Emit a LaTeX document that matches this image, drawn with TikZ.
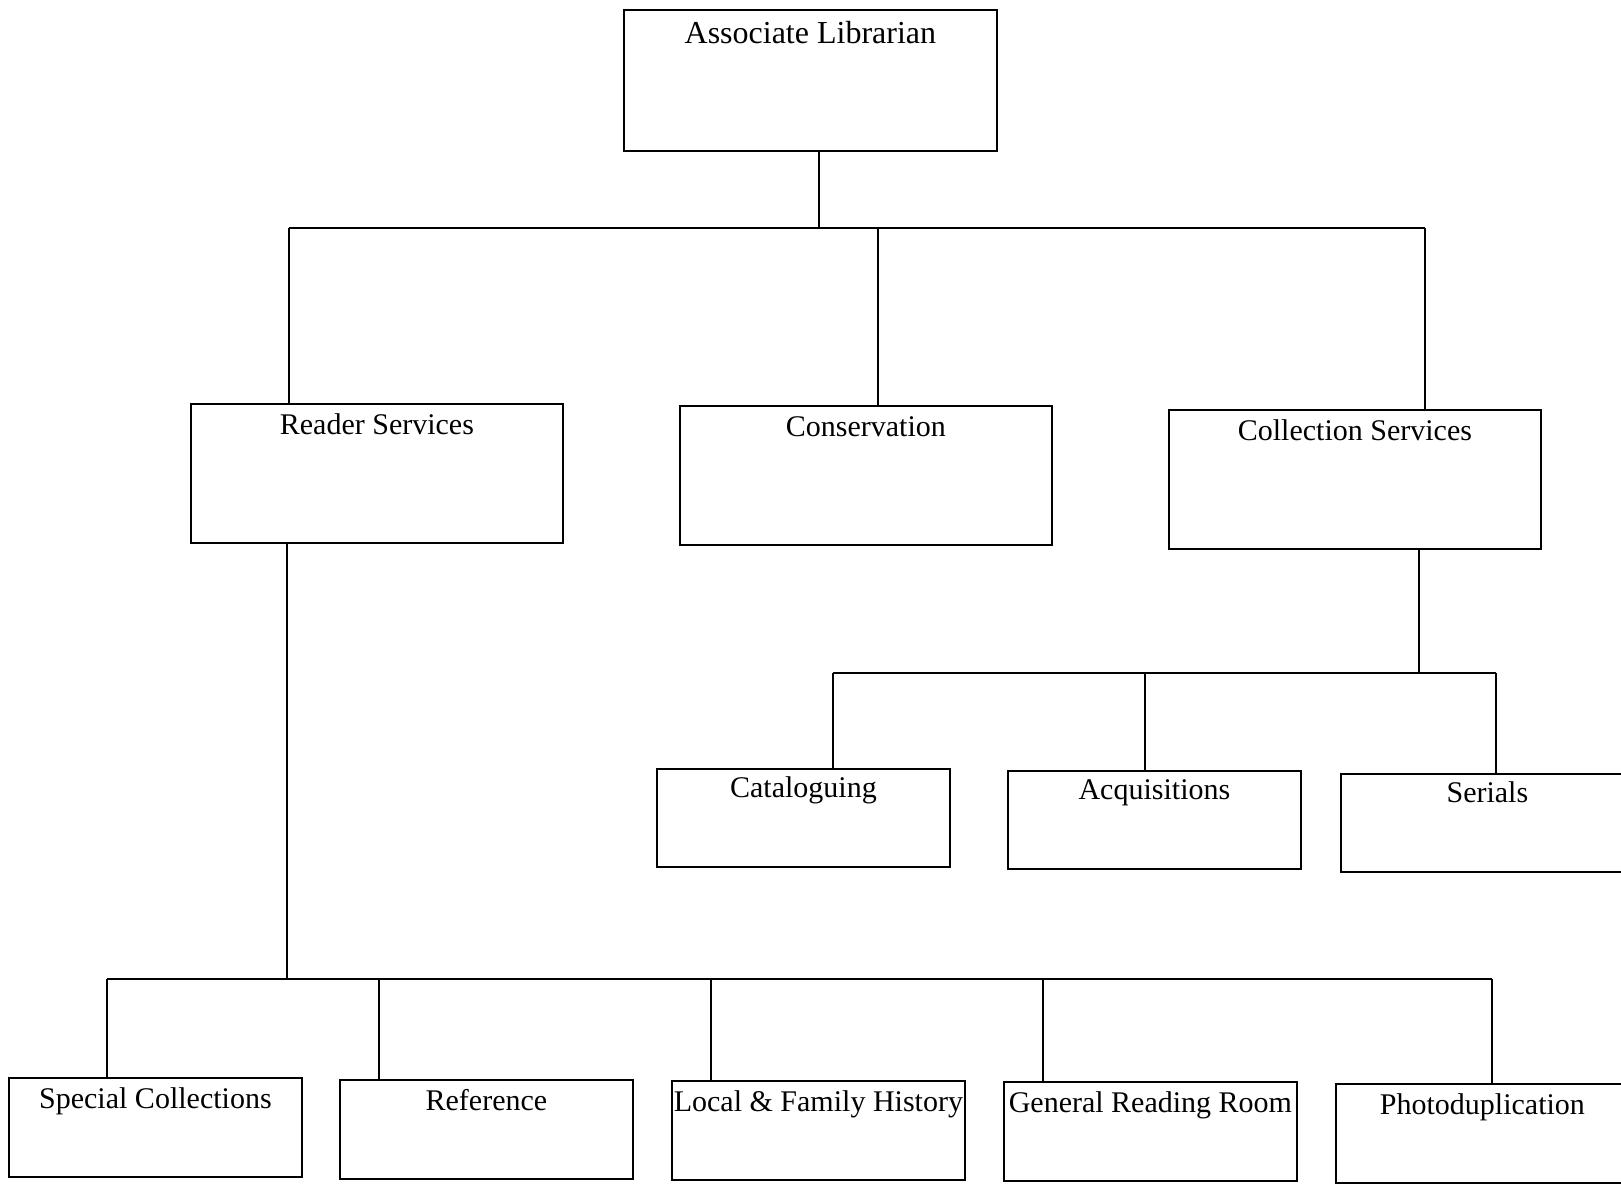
\documentclass[tikz,border=0pt]{standalone}
\usepackage{fontspec}
\setmainfont{Liberation Serif}

\begin{document}
\begin{tikzpicture}[x=0.5pt, y=-0.5pt, line width=0.9pt,
    unit/.style = {draw, rectangle, anchor=north west, inner sep=0pt,
                   font=\fontsize{15}{18}\selectfont},
    head/.style = {unit, minimum width=186.5pt, text height=17pt, text depth=53.5pt,
                   font=\fontsize{16}{19}\selectfont},
    dept/.style = {unit, minimum width=186pt, text height=15.5pt, text depth=54pt},
    sect/.style = {unit, minimum width=146.5pt, text height=14.5pt, text depth=34.5pt},
    desk/.style = {unit, minimum width=146.5pt, text height=15.5pt, text depth=34pt}]
    \fill[white] (0,0) rectangle (1621,1184);
    \useasboundingbox (0,0) rectangle (1621,1184);

    % boxes
    \node[head] (al) at (623,9) {Associate Librarian};
    \node[dept] (rs) at (190,403) {Reader Services};
    \node[dept] (cons) at (679,405) {Conservation};
    \node[dept] (cs) at (1168,409) {Collection Services};
    \node[sect] (cat) at (656,768) {Cataloguing};
    \node[sect] (acq) at (1007,770) {Acquisitions};
    \node[sect] (ser) at (1340,773) {Serials};
    \node[desk] (spc) at (8,1077) {Special Collections};
    \node[desk] (ref) at (339,1079) {Reference};
    \node[desk] (lfh) at (671,1080) {Local \& Family History};
    \node[desk] (grr) at (1003,1081) {General Reading Room};
    \node[desk] (pho) at (1335,1083) {Photoduplication};

    % top level
    \coordinate (t0) at (819,228);
    \coordinate (tl) at (289,228);
    \coordinate (tc) at (878,228);
    \coordinate (tr) at (1425,228);
    \draw (t0 |- al.south) -- (t0);
    \draw (tl) -- (tr);
    \draw (tl) -- (tl |- rs.north);
    \draw (tc) -- (tc |- cons.north);
    \draw (tr) -- (tr |- cs.north);

    % collection services
    \coordinate (m0) at (1419,673);
    \coordinate (ml) at (833,673);
    \coordinate (mc) at (1145,673);
    \coordinate (mr) at (1496,673);
    \draw (m0 |- cs.south) -- (m0);
    \draw (ml) -- (mr);
    \draw (ml) -- (ml |- cat.north);
    \draw (mc) -- (mc |- acq.north);
    \draw (mr) -- (mr |- ser.north);

    % reader services
    \coordinate (b0) at (287,979);
    \coordinate (b1) at (107,979);
    \coordinate (b2) at (379,979);
    \coordinate (b3) at (711,979);
    \coordinate (b4) at (1043,979);
    \coordinate (b5) at (1492,979);
    \draw (b0 |- rs.south) -- (b0);
    \draw (b1) -- (b5);
    \draw (b1) -- (b1 |- spc.north);
    \draw (b2) -- (b2 |- ref.north);
    \draw (b3) -- (b3 |- lfh.north);
    \draw (b4) -- (b4 |- grr.north);
    \draw (b5) -- (b5 |- pho.north);
\end{tikzpicture}
\end{document}
